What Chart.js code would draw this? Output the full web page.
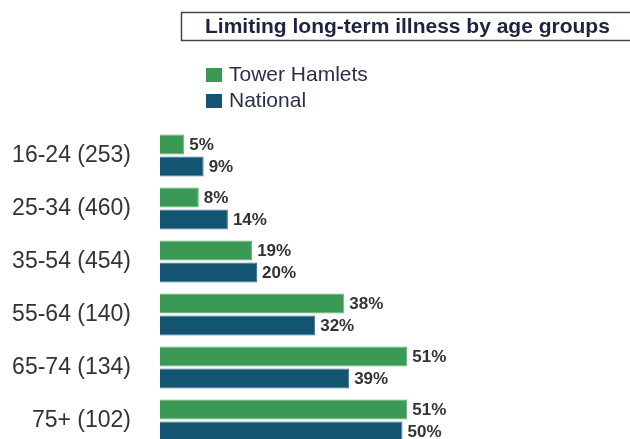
<!DOCTYPE html>
<html>
<head>
<meta charset="utf-8">
<script src="https://cdn.jsdelivr.net/npm/chart.js@4/dist/chart.umd.min.js"></script>
<style>
  html, body { margin: 0; padding: 0; background: #fff; width: 630px; height: 439px; overflow: hidden; }
  #wrap { position: relative; width: 630px; height: 447px; }
</style>
</head>
<body>
<div id="wrap"><canvas id="c"></canvas></div>
<script>
const chartTitle = "Limiting long-term illness by age groups";
const categories = ["16-24 (253)", "25-34 (460)", "35-54 (454)", "55-64 (140)", "65-74 (134)", "75+ (102)"];
const seriesNames = ["Tower Hamlets", "National"];
const towerHamlets = [5, 8, 19, 38, 51, 51];
const national = [9, 14, 20, 32, 39, 50];
const seriesColors = ["#3a9955", "#135473"];
const seriesBorders = ["#62b27a", "#3f7493"];

const FONT = "'Liberation Sans', Arial, sans-serif";

const decorPlugin = {
  id: 'decor',
  afterDraw(chart) {
    const ctx = chart.ctx;
    ctx.save();
    // title box
    ctx.strokeStyle = '#444';
    ctx.lineWidth = 1.5;
    ctx.strokeRect(181.5, 12.5, 470, 28);
    ctx.fillStyle = '#1c2440';
    ctx.font = "bold 21px " + FONT;
    ctx.textBaseline = 'middle';
    ctx.textAlign = 'left';
    ctx.fillText(chartTitle, 205, 27);
    // legend
    ctx.font = "21px " + FONT;
    chart.data.datasets.forEach((ds, i) => {
      const y = 68 + i * 26;
      ctx.fillStyle = ds.backgroundColor;
      ctx.fillRect(206, y, 16, 14);
      ctx.fillStyle = '#2a3048';
      ctx.fillText(ds.label, 229, y + 7.5);
    });
    // data labels
    ctx.font = "bold 17px " + FONT;
    ctx.fillStyle = '#333';
    chart.data.datasets.forEach((ds, i) => {
      const meta = chart.getDatasetMeta(i);
      meta.data.forEach((bar, j) => {
        ctx.fillText(ds.data[j] + '%', bar.x + 5, bar.y + 1);
      });
    });
    ctx.restore();
  }
};

new Chart(document.getElementById('c'), {
  type: 'bar',
  data: {
    labels: categories,
    datasets: [
      { label: seriesNames[0], data: towerHamlets, backgroundColor: seriesColors[0], borderColor: seriesBorders[0], borderWidth: 1 },
      { label: seriesNames[1], data: national, backgroundColor: seriesColors[1], borderColor: seriesBorders[1], borderWidth: 1 }
    ]
  },
  options: {
    indexAxis: 'y',
    responsive: true,
    maintainAspectRatio: false,
    animation: false,
    categoryPercentage: 0.83,
    barPercentage: 0.92,
    layout: { padding: { top: 129, right: 33.5, bottom: 0, left: 0 } },
    plugins: { legend: { display: false }, title: { display: false }, tooltip: { enabled: false } },
    scales: {
      x: { display: false, min: 0, max: 90 },
      y: {
        grid: { display: false, drawTicks: false },
        border: { display: false },
        afterFit(scale) { scale.width = 160; scale.paddingTop = 0; scale.paddingBottom = 0; },
        ticks: { padding: 29, color: '#333', font: { family: FONT, size: 23 } }
      }
    }
  },
  plugins: [decorPlugin]
});
</script>
</body>
</html>
